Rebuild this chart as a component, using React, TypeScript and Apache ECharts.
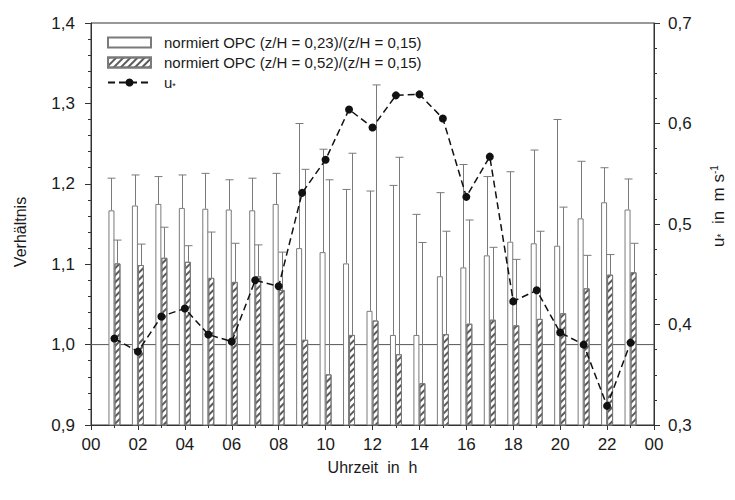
import React, { useEffect, useRef } from "react";
import * as echarts from "echarts";

// Hour of day (bar / point positions)
const hours = [1, 2, 3, 4, 5, 6, 7, 8, 9, 10, 11, 12, 13, 14, 15, 16, 17, 18, 19, 20, 21, 22, 23];

// normiert OPC (z/H = 0,23)/(z/H = 0,15)
const ratio023 = [1.167, 1.173, 1.175, 1.170, 1.169, 1.168, 1.167, 1.175, 1.120, 1.115, 1.101, 1.042, 1.012, 1.012, 1.085, 1.096, 1.111, 1.128, 1.126, 1.123, 1.157, 1.177, 1.168];
const ratio023ErrTop = [1.207, 1.211, 1.209, 1.211, 1.213, 1.205, 1.207, 1.213, 1.275, 1.243, 1.193, 1.191, 1.198, 1.162, 1.189, 1.224, 1.209, 1.215, 1.242, 1.280, 1.228, 1.220, 1.206];

// normiert OPC (z/H = 0,52)/(z/H = 0,15)
const ratio052 = [1.101, 1.099, 1.108, 1.103, 1.083, 1.078, 1.085, 1.068, 1.006, 0.963, 1.012, 1.030, 0.988, 0.952, 1.013, 1.026, 1.031, 1.024, 1.032, 1.039, 1.070, 1.087, 1.090];
const ratio052ErrTop = [1.130, 1.125, 1.146, 1.123, 1.140, 1.126, 1.124, 1.115, 1.218, 1.205, 1.238, 1.323, 1.233, 1.127, 1.141, 1.155, 1.121, 1.106, 1.141, 1.171, 1.111, 1.112, 1.126];

// u* in m s-1 (right axis)
const uStar = [0.386, 0.373, 0.408, 0.416, 0.390, 0.383, 0.444, 0.438, 0.531, 0.564, 0.614, 0.596, 0.628, 0.629, 0.605, 0.527, 0.567, 0.423, 0.434, 0.392, 0.380, 0.319, 0.382];

// reference level of the ratio
const refLevel = 1.0;
const xRange = [0, 24];

const NAME1 = "normiert OPC (z/H = 0,23)/(z/H = 0,15)";
const NAME2 = "normiert OPC (z/H = 0,52)/(z/H = 0,15)";
const NAME3 = "u*";

const FONT = '"Liberation Sans", Arial, Helvetica, sans-serif';
const AXIS = "#333";
const BARLINE = "#7a7a7a";
const TXT = "#1a1a1a";

export default function App() {
  const ref = useRef<HTMLDivElement>(null);

  useEffect(() => {
    if (!ref.current) return;
    const chart = echarts.init(ref.current, null, { renderer: "svg" });

    const errSeries = (name: string, tops: number[], bases: number[], offset: number) => ({
      type: "custom",
      name,
      xAxisIndex: 0,
      yAxisIndex: 0,
      z: 3,
      silent: true,
      encode: { x: 0, y: 1 },
      data: hours.map((h, i) => [h, tops[i], bases[i]]),
      renderItem: (_params: any, api: any) => {
        const top = api.coord([api.value(0), api.value(1)]);
        const base = api.coord([api.value(0), api.value(2)]);
        const x = Math.round(top[0] + offset) + 0.5;
        const st = { stroke: BARLINE, lineWidth: 1 };
        return {
          type: "group",
          children: [
            { type: "line", shape: { x1: x, y1: base[1], x2: x, y2: top[1] }, style: st },
            { type: "line", shape: { x1: x - 4, y1: top[1], x2: x + 4, y2: top[1] }, style: st },
          ],
        };
      },
    });

    const comma = (v: number) => v.toFixed(1).replace(".", ",");

    chart.setOption({
      animation: false,
      backgroundColor: "#fff",
      textStyle: { fontFamily: FONT },
      grid: { left: 91, right: 81, top: 23, bottom: 75, show: true, borderColor: AXIS, borderWidth: 1, backgroundColor: "transparent" },
      legend: {
        orient: "vertical",
        left: 102,
        top: 30,
        itemWidth: 43,
        itemHeight: 10,
        itemGap: 5,
        selectedMode: false,
        data: [
          { name: NAME1, icon: "rect" },
          { name: NAME2, icon: "rect" },
          { name: NAME3 },
        ],
        formatter: (n: string) => (n === NAME3 ? "{u|u}{s|*}" : n),
        textStyle: {
          fontSize: 15,
          color: TXT,
          padding: [0, 0, 0, 8],
          rich: {
            u: { fontSize: 15, color: TXT, fontFamily: FONT },
            s: { fontSize: 9, color: TXT, fontFamily: FONT, verticalAlign: "bottom", lineHeight: 4 },
          },
        },
      },
      xAxis: {
        type: "value",
        min: xRange[0],
        max: xRange[1],
        interval: 2,
        axisLine: { show: true, lineStyle: { color: AXIS } },
        axisTick: { show: true, length: 5, lineStyle: { color: AXIS } },
        minorTick: { show: true, splitNumber: 2, length: 3, lineStyle: { color: AXIS } },
        splitLine: { show: false },
        axisLabel: {
          fontSize: 17,
          color: TXT,
          margin: 11,
          formatter: (v: number) => String(v % 24).padStart(2, "0"),
        },
        name: "Uhrzeit  in  h",
        nameLocation: "middle",
        nameGap: 34,
        nameTextStyle: { fontSize: 16, color: TXT },
      },
      yAxis: [
        {
          type: "value",
          min: 0.9,
          max: 1.4,
          interval: 0.1,
          position: "left",
          axisLine: { show: true, lineStyle: { color: AXIS } },
          axisTick: { show: true, length: 6, lineStyle: { color: AXIS } },
          minorTick: { show: true, splitNumber: 5, length: 3, lineStyle: { color: AXIS } },
          splitLine: { show: false },
          axisLabel: { fontSize: 17, color: TXT, margin: 16, formatter: comma },
        },
        {
          type: "value",
          min: 0.3,
          max: 0.7,
          interval: 0.1,
          position: "right",
          axisLine: { show: true, lineStyle: { color: AXIS } },
          axisTick: { show: true, length: 6, lineStyle: { color: AXIS } },
          minorTick: { show: true, splitNumber: 4, length: 3, lineStyle: { color: AXIS } },
          splitLine: { show: false },
          axisLabel: { fontSize: 17, color: TXT, margin: 14, formatter: comma },
        },
      ],
      graphic: [
        {
          type: "text",
          x: 20,
          y: 232,
          rotation: Math.PI / 2,
          style: { text: "Verhältnis", font: `16px ${FONT}`, fill: TXT, align: "center", verticalAlign: "middle" },
        },
        {
          type: "text",
          x: 718,
          y: 206,
          rotation: Math.PI / 2,
          style: {
            text: "{a|u}{s|*}{a|  in  m s}{p|-1}",
            fill: TXT,
            align: "center",
            verticalAlign: "middle",
            rich: {
              a: { fontSize: 17, fontFamily: FONT, fill: TXT, lineHeight: 17 },
              s: { fontSize: 10, fontFamily: FONT, fill: TXT, verticalAlign: "bottom", lineHeight: 4 },
              p: { fontSize: 10, fontFamily: FONT, fill: TXT, verticalAlign: "top", lineHeight: 8 },
            },
          },
        },
      ],
      series: [
        {
          name: "ref",
          type: "line",
          data: xRange.map((x) => [x, refLevel]),
          symbol: "none",
          lineStyle: { color: "#555", width: 1 },
          z: 1,
          silent: true,
        },
        {
          name: NAME1,
          type: "bar",
          barWidth: 6,
          barGap: "0%",
          z: 2,
          data: hours.map((h, i) => [h, ratio023[i]]),
          itemStyle: { color: "#fff", borderColor: BARLINE, borderWidth: 1 },
        },
        {
          name: NAME2,
          type: "bar",
          barWidth: 6,
          barGap: "0%",
          z: 2,
          data: hours.map((h, i) => [h, ratio052[i]]),
          itemStyle: {
            color: "#fff",
            borderColor: BARLINE,
            borderWidth: 1,
            decal: {
              symbol: "rect",
              symbolSize: 1,
              dashArrayX: [1, 0],
              dashArrayY: [1.3, 2.7],
              rotation: -Math.PI / 4,
              color: "#5a5a5a",
              backgroundColor: "#fff",
            },
          },
        },
        errSeries("err1", ratio023ErrTop, ratio023, -3),
        errSeries("err2", ratio052ErrTop, ratio052, 3),
        {
          name: NAME3,
          type: "line",
          yAxisIndex: 1,
          z: 5,
          data: hours.map((h, i) => [h, uStar[i]]),
          symbol: "circle",
          symbolSize: 8,
          itemStyle: { color: "#111" },
          lineStyle: { color: "#111", width: 1.5, type: [7, 4] },
        },
      ],
    });

    return () => chart.dispose();
  }, []);

  return <div ref={ref} style={{ position: "fixed", left: 0, top: 0, width: 735, height: 500, background: "#fff" }} />;
}
